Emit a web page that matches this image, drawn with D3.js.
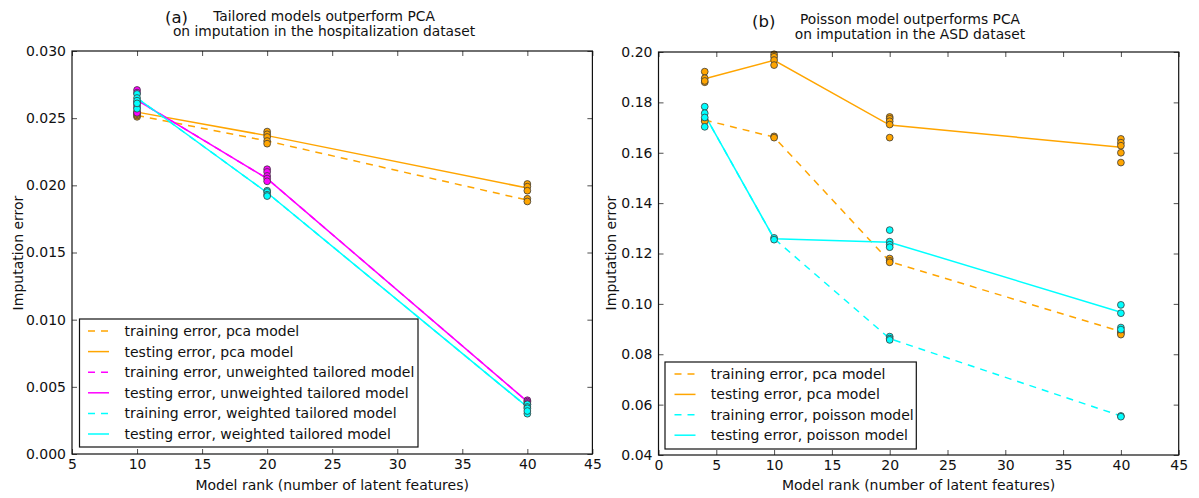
<!DOCTYPE html>
<html>
<head>
<meta charset="utf-8">
<script src="https://cdn.jsdelivr.net/npm/d3@7"></script>
<style>
  body { margin: 0; background: #fff; }
  svg { font-family: "DejaVu Sans", sans-serif; }
  text { fill: #111; }
</style>
</head>
<body>
<svg id="chart" width="1199" height="498"></svg>
<script>
// ---- panel (a) data: hospitalization dataset
var ranksA = [10, 20, 40];
var pcaTrainA = [0.0252, 0.0233, 0.0189];
var pcaTestA = [0.02545, 0.0237, 0.0198];
var unweightedTrainA = [0.02635, 0.0205, 0.0039];
var unweightedTestA = [0.02635, 0.0205, 0.0039];
var weightedTrainA = [0.0265, 0.01945, 0.0035];
var weightedTestA = [0.0265, 0.01945, 0.0035];
var pcaDotsA = [
	[0.0251, 0.0252, 0.0253, 0.0254, 0.0255],
	[0.0240, 0.0238, 0.0236, 0.0233, 0.0231],
	[0.0201, 0.0199, 0.0196, 0.0190, 0.0188],
];
var unweightedDotsA = [
	[0.0271, 0.0269, 0.0262, 0.0258, 0.0254, 0.0260],
	[0.0212, 0.0210, 0.0207, 0.0205, 0.0203],
	[0.0040, 0.0039, 0.0038, 0.0037],
];
var weightedDotsA = [
	[0.0268, 0.0265, 0.0263, 0.0257, 0.0261],
	[0.0196, 0.0195, 0.0193, 0.0192],
	[0.0037, 0.0035, 0.0034, 0.0030, 0.0032],
];
var xTicksA = [5, 10, 15, 20, 25, 30, 35, 40, 45];
var yTicksA = [0, 0.005, 0.01, 0.015, 0.02, 0.025, 0.03];
var legendA = [
	"training error, pca model",
	"testing error, pca model",
	"training error, unweighted tailored model",
	"testing error, unweighted tailored model",
	"training error, weighted tailored model",
	"testing error, weighted tailored model",
];

// ---- panel (b) data: ASD dataset
var ranksB = [4, 10, 20, 40];
var pcaTrainB = [0.1730, 0.1662, 0.1168, 0.0890];
var pcaTestB = [0.1894, 0.1967, 0.1710, 0.1622];
var poissonTrainB = [0.1750, 0.1259, 0.0862, 0.0555];
var poissonTestB = [0.1750, 0.1259, 0.1245, 0.0967];
var pcaDotsB = [
	[0.1922, 0.1896, 0.1880, 0.1885, 0.1730, 0.1725],
	[0.1991, 0.1981, 0.1968, 0.1948, 0.1665, 0.1660],
	[0.1742, 0.1735, 0.1725, 0.1712, 0.1660, 0.1180, 0.1171, 0.1165],
	[0.1655, 0.1640, 0.1628, 0.1600, 0.1561, 0.0890, 0.0884, 0.0878],
];
var poissonDotsB = [
	[0.1783, 0.1757, 0.1740, 0.1703],
	[0.1262, 0.1255],
	[0.1293, 0.1247, 0.1235, 0.1225, 0.0870, 0.0862, 0.0857],
	[0.0996, 0.0963, 0.0906, 0.0898, 0.0555, 0.0552],
];
var xTicksB = [0, 5, 10, 15, 20, 25, 30, 35, 40, 45];
var yTicksB = [0.04, 0.06, 0.08, 0.1, 0.12, 0.14, 0.16, 0.18, 0.2];
var legendB = [
	"training error, pca model",
	"testing error, pca model",
	"training error, poisson model",
	"testing error, poisson model",
];

var ORANGE = "#ffa500";
var MAGENTA = "#ff00ff";
var CYAN = "#00ffff";

var svg = d3.select("#chart");

function drawPanel(p) {
	var g = svg.append("g");
	var x = d3.scaleLinear().domain(p.xDomain).range([p.left, p.right]);
	var y = d3.scaleLinear().domain(p.yDomain).range([p.bottom, p.top]);

	// ticks (inward, all four sides)
	var bottomAxis = d3.axisBottom(x).tickValues(p.xTicks).tickSize(-5).tickPadding(5).tickFormat(d3.format("d"));
	var topAxis = d3.axisTop(x).tickValues(p.xTicks).tickSize(-5).tickFormat("");
	var leftAxis = d3.axisLeft(y).tickValues(p.yTicks).tickSize(-5).tickPadding(6).tickFormat(d3.format(p.yFormat));
	var rightAxis = d3.axisRight(y).tickValues(p.yTicks).tickSize(-5).tickFormat("");

	[
		[bottomAxis, `translate(0,${p.bottom})`],
		[topAxis, `translate(0,${p.top})`],
		[leftAxis, `translate(${p.left},0)`],
		[rightAxis, `translate(${p.right},0)`],
	].forEach(([axis, tr]) => {
		var a = g.append("g").attr("transform", tr).call(axis);
		a.select(".domain").remove();
		a.selectAll(".tick line").attr("stroke", "#222").attr("stroke-width", 0.8);
		a.selectAll(".tick text")
			.attr("font-family", "DejaVu Sans")
			.attr("font-size", 14)
			.attr("fill", "#111");
	});

	var line = d3.line().x((d) => x(d[0])).y((d) => y(d[1]));

	// lines
	p.series.forEach((s) => {
		g.append("path")
			.datum(p.ranks.map((r, i) => [r, s.values[i]]))
			.attr("fill", "none")
			.attr("stroke", s.color)
			.attr("stroke-width", 1.5)
			.attr("stroke-dasharray", s.dashed ? "7,6" : null)
			.attr("d", line);
	});

	// per-run dots
	p.dots.forEach((d) => {
		var pts = [];
		d.values.forEach((vals, i) => vals.forEach((v) => pts.push([p.ranks[i], v])));
		g.append("g")
			.selectAll("circle")
			.data(pts)
			.enter()
			.append("circle")
			.attr("cx", (e) => x(e[0]))
			.attr("cy", (e) => y(e[1]))
			.attr("r", 3.4)
			.attr("fill", d.color)
			.attr("stroke", "#3a3a3a")
			.attr("stroke-width", 0.8);
	});

	// frame
	g.append("rect")
		.attr("x", p.left)
		.attr("y", p.top)
		.attr("width", p.right - p.left)
		.attr("height", p.bottom - p.top)
		.attr("fill", "none")
		.attr("stroke", "#111")
		.attr("stroke-width", 1.2);

	// titles
	g.append("text")
		.attr("x", p.tagX)
		.attr("y", p.tagY)
		.attr("font-size", 16.5)
		.text(p.tag);
	g.append("text")
		.attr("x", p.titleX)
		.attr("y", p.titleY)
		.attr("text-anchor", "middle")
		.attr("font-size", 13.8)
		.text(p.title[0]);
	g.append("text")
		.attr("x", p.titleX)
		.attr("y", p.titleY + 15)
		.attr("text-anchor", "middle")
		.attr("font-size", 13.8)
		.text(p.title[1]);

	// axis labels
	g.append("text")
		.attr("x", (p.left + p.right) / 2)
		.attr("y", 489.5)
		.attr("text-anchor", "middle")
		.attr("font-size", 14)
		.text("Model rank (number of latent features)");
	g.append("text")
		.attr("transform", `translate(${p.yLabelX},253) rotate(-90)`)
		.attr("text-anchor", "middle")
		.attr("font-size", 14)
		.text("Imputation error");

	// legend
	var lg = p.legend;
	var box = g.append("g");
	box.append("rect")
		.attr("x", lg.x0)
		.attr("y", lg.y0)
		.attr("width", lg.x1 - lg.x0)
		.attr("height", lg.y1 - lg.y0)
		.attr("fill", "#fff")
		.attr("stroke", "#111")
		.attr("stroke-width", 1.2);
	p.series.forEach((s, i) => {
		var cy = lg.row0 + i * lg.step;
		box.append("line")
			.attr("x1", lg.hx0)
			.attr("x2", lg.hx1)
			.attr("y1", cy)
			.attr("y2", cy)
			.attr("stroke", s.color)
			.attr("stroke-width", 1.5)
			.attr("stroke-dasharray", s.dashed ? "7,6" : null);
		box.append("text")
			.attr("x", lg.tx)
			.attr("y", cy + 5)
			.attr("font-size", 14)
			.text(lg.labels[i]);
	});
}

drawPanel({
	left: 72, right: 592.4, top: 51, bottom: 454,
	xDomain: [5, 45], yDomain: [0, 0.03],
	xTicks: xTicksA, yTicks: yTicksA, yFormat: ".3f",
	ranks: ranksA,
	series: [
		{ values: pcaTrainA, color: ORANGE, dashed: true },
		{ values: pcaTestA, color: ORANGE, dashed: false },
		{ values: unweightedTrainA, color: MAGENTA, dashed: true },
		{ values: unweightedTestA, color: MAGENTA, dashed: false },
		{ values: weightedTrainA, color: CYAN, dashed: true },
		{ values: weightedTestA, color: CYAN, dashed: false },
	],
	dots: [
		{ values: pcaDotsA, color: ORANGE },
		{ values: unweightedDotsA, color: MAGENTA },
		{ values: weightedDotsA, color: CYAN },
	],
	tag: "(a)", tagX: 165, tagY: 22.5,
	title: ["Tailored models outperform PCA", "on imputation in the hospitalization dataset"],
	titleX: 324, titleY: 21,
	yLabelX: 22.5,
	legend: { x0: 79.5, x1: 418, y0: 319, y1: 447, row0: 331, step: 20.6, hx0: 88, hx1: 109, tx: 124.5, labels: legendA },
});

drawPanel({
	left: 658.5, right: 1178.7, top: 52, bottom: 455,
	xDomain: [0, 45], yDomain: [0.04, 0.2],
	xTicks: xTicksB, yTicks: yTicksB, yFormat: ".2f",
	ranks: ranksB,
	series: [
		{ values: pcaTrainB, color: ORANGE, dashed: true },
		{ values: pcaTestB, color: ORANGE, dashed: false },
		{ values: poissonTrainB, color: CYAN, dashed: true },
		{ values: poissonTestB, color: CYAN, dashed: false },
	],
	dots: [
		{ values: pcaDotsB, color: ORANGE },
		{ values: poissonDotsB, color: CYAN },
	],
	tag: "(b)", tagX: 752, tagY: 26.5,
	title: ["Poisson model outperforms PCA", "on imputation in the ASD dataset"],
	titleX: 910, titleY: 23.5,
	yLabelX: 616,
	legend: { x0: 665, x1: 916.3, y0: 362, y1: 449, row0: 374, step: 20.4, hx0: 674.5, hx1: 695.5, tx: 710.8, labels: legendB },
});
</script>
</body>
</html>
